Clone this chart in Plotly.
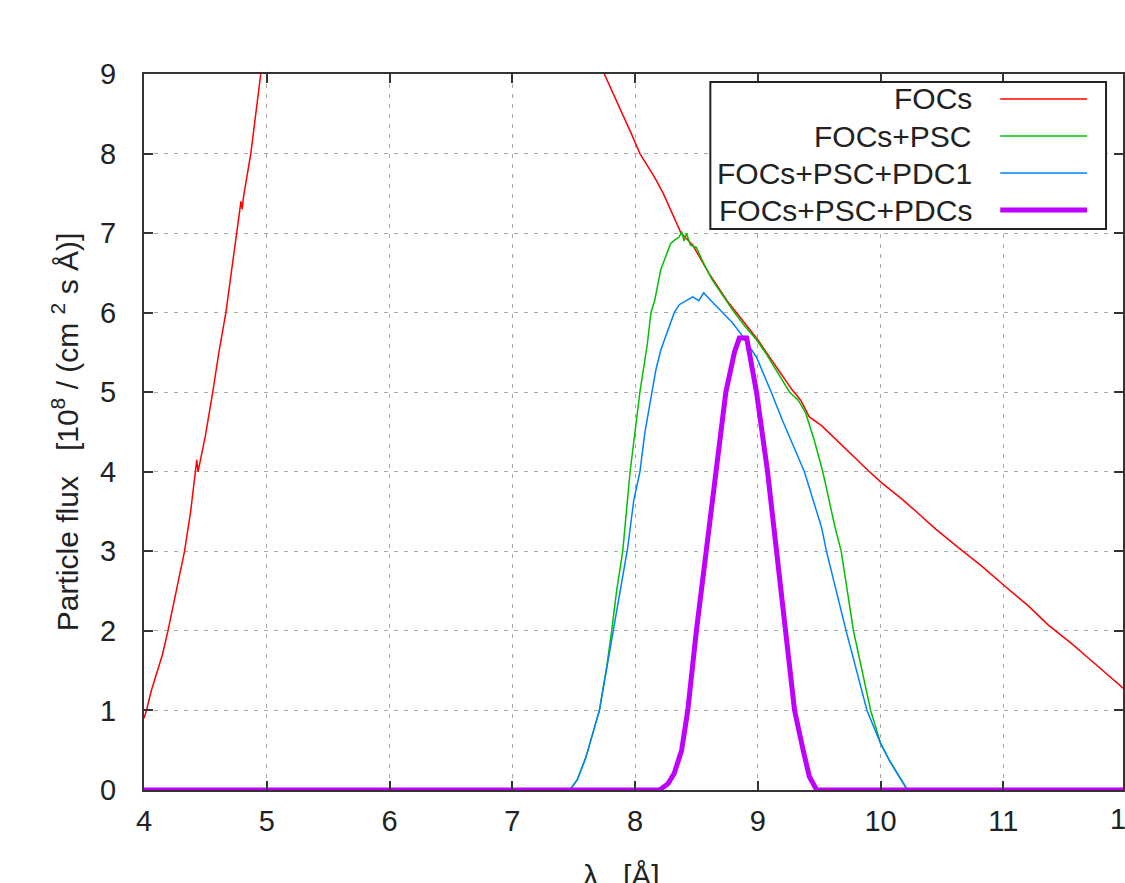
import plotly.graph_objects as go

# ---------------- data ----------------
series_names = ["FOCs", "FOCs+PSC", "FOCs+PSC+PDC1", "FOCs+PSC+PDCs"]

focs_x = [4.00, 4.02, 4.06, 4.10, 4.15, 4.195, 4.25, 4.33, 4.38, 4.42, 4.43, 4.44, 4.50,
          4.56, 4.61, 4.667, 4.72, 4.755, 4.79, 4.80, 4.81, 4.87, 4.91, 4.95, 5.00, 5.30,
          6.00, 7.00, 7.50, 7.75, 7.90, 7.97, 8.04, 8.10, 8.16, 8.23, 8.30, 8.375, 8.47,
          8.60, 8.75, 8.90, 9.00, 9.15, 9.28, 9.35, 9.42, 9.52, 9.64, 9.78, 9.91, 10.01,
          10.18, 10.29, 10.45, 10.64, 10.82, 11.00, 11.20, 11.37, 11.55, 11.70, 11.85, 12.00]
focs_y = [0.90, 1.00, 1.25, 1.45, 1.70, 2.00, 2.40, 3.00, 3.50, 4.00, 4.15, 4.00, 4.45,
          5.00, 5.50, 6.00, 6.60, 7.00, 7.40, 7.30, 7.45, 8.00, 8.50, 9.00, 9.60, 12.0,
          14.0, 12.0, 10.2, 9.00, 8.50, 8.25, 8.00, 7.85, 7.70, 7.50, 7.25, 7.00, 6.85,
          6.50, 6.15, 5.85, 5.66, 5.32, 5.03, 4.90, 4.69, 4.58, 4.40, 4.20, 4.00, 3.86,
          3.65, 3.50, 3.28, 3.04, 2.82, 2.58, 2.32, 2.07, 1.85, 1.65, 1.45, 1.25]

psc_x = [4.00, 7.47, 7.53, 7.60, 7.71, 7.77, 7.81, 7.85, 7.90, 7.96, 8.04, 8.10, 8.13,
         8.16, 8.21, 8.29, 8.33, 8.36, 8.38, 8.40, 8.42, 8.45, 8.50, 8.55, 8.63, 8.72,
         8.81, 8.90, 8.99, 9.07, 9.15, 9.26, 9.33, 9.39, 9.46, 9.53, 9.63, 9.68, 9.78,
         9.85, 9.92, 10.00, 10.07, 10.15, 10.22, 12.00]
psc_y = [0.00, 0.00, 0.13, 0.41, 1.00, 1.55, 2.00, 2.50, 3.00, 4.00, 5.00, 5.60, 6.00,
         6.15, 6.54, 6.87, 6.92, 6.95, 7.02, 6.90, 7.00, 6.85, 6.82, 6.65, 6.41, 6.20,
         6.00, 5.82, 5.66, 5.48, 5.28, 5.00, 4.90, 4.74, 4.40, 4.00, 3.30, 3.00, 2.00,
         1.50, 1.00, 0.59, 0.38, 0.17, 0.00, 0.00]

pdc1_x = [4.00, 7.47, 7.53, 7.60, 7.71, 7.82, 7.94, 7.99, 8.04, 8.08, 8.14, 8.17, 8.21,
          8.27, 8.32, 8.36, 8.42, 8.47, 8.52, 8.56, 8.60, 8.65, 8.71, 8.79, 8.86, 8.99,
          9.11, 9.20, 9.38, 9.52, 9.56, 9.72, 9.89, 10.00, 10.07, 10.15, 10.22, 12.00]
pdc1_y = [0.00, 0.00, 0.13, 0.41, 1.00, 2.00, 3.04, 3.64, 4.00, 4.49, 5.00, 5.28, 5.53,
          5.80, 6.00, 6.10, 6.15, 6.20, 6.15, 6.25, 6.18, 6.10, 6.00, 5.88, 5.74, 5.44,
          5.00, 4.65, 4.00, 3.30, 3.00, 2.00, 1.00, 0.59, 0.38, 0.17, 0.00, 0.00]

pdcs_x = [4.00, 8.20, 8.27, 8.32, 8.38, 8.43, 8.50, 8.58, 8.66, 8.74, 8.81, 8.85,
          8.91, 8.94, 8.99, 9.08, 9.15, 9.22, 9.30, 9.37, 9.42, 9.48, 12.00]
pdcs_y = [0.00, 0.00, 0.08, 0.21, 0.50, 1.00, 2.00, 3.00, 4.00, 5.00, 5.50, 5.68,
          5.68, 5.45, 5.00, 4.00, 3.00, 2.00, 1.00, 0.50, 0.17, 0.00, 0.00]

x_ticks = [4, 5, 6, 7, 8, 9, 10, 11, 12]
y_ticks = [0, 1, 2, 3, 4, 5, 6, 7, 8, 9]

# ---------------- style ----------------
W, H = 1125, 883
ML, MR, MT, MB = 144, 0, 74, 93
FONT = "Liberation Sans, Arial, sans-serif"
colors = ["#ff0000", "#00c000", "#0080ff", "#c000ff"]
widths = [1.5, 1.5, 1.5, 5]
TXT = "#222222"
TICK_SIZE = 29
TEXT_SIZE = 30
PX_PER_UNIT = 123.0

PW = W - ML - MR
PH = H - MT - MB


def px(xp):
    return (xp - ML) / PW


def py(yp):
    return (H - MB - yp) / PH


fig = go.Figure()
data = [(focs_x, focs_y), (psc_x, psc_y), (pdc1_x, pdc1_y), (pdcs_x, pdcs_y)]
for i, (xs, ys) in enumerate(data):
    fig.add_trace(go.Scatter(
        x=xs, y=ys, mode="lines", name=series_names[i],
        line=dict(color=colors[i], width=widths[i]),
        cliponaxis=(i == 0), showlegend=False,
    ))

x_min = 4.0
x_max = 4.0 + PW / PX_PER_UNIT

axis_common = dict(
    showline=True, linecolor="#333333", linewidth=2, mirror="ticks",
    ticks="inside", ticklen=9, tickwidth=2, tickcolor="#333333",
    showgrid=True, gridcolor="#a8a8a8", gridwidth=1.3, griddash="4px,6px",
    zeroline=False, tickfont=dict(family=FONT, size=TICK_SIZE, color=TXT),
)
fig.update_xaxes(range=[x_min, x_max], tickvals=x_ticks,
                 ticktext=[str(v) for v in x_ticks], ticklabelstandoff=4,
                 **axis_common)
fig.update_yaxes(range=[0, 9], tickvals=y_ticks,
                 ticktext=[str(v) for v in y_ticks], ticklabelstandoff=20,
                 **axis_common)

annotations = []
# partially visible last x tick label (12 lies just beyond the window edge)
annotations.append(dict(x=px(ML + (x_ticks[-1] - x_min) * PX_PER_UNIT), y=py(819),
                        xref="paper", yref="paper",
                        text=str(x_ticks[-1]), showarrow=False, xanchor="center",
                        yanchor="middle", font=dict(family=FONT, size=TICK_SIZE, color=TXT)))
# axis titles
annotations.append(dict(x=px(65), y=py(432), xref="paper", yref="paper",
                        text="Particle flux   [10<sup>8</sup> / (cm <sup>2</sup> s Å)]",
                        textangle=-90, showarrow=False, xanchor="center", yanchor="middle",
                        font=dict(family=FONT, size=TEXT_SIZE, color=TXT)))
annotations.append(dict(x=px(622), y=py(857), xref="paper", yref="paper",
                        text="λ   [Å]", showarrow=False, xanchor="center", yanchor="top",
                        font=dict(family=FONT, size=TEXT_SIZE, color=TXT)))

shapes = []
# legend frame
shapes.append(dict(type="rect", xref="paper", yref="paper",
                   x0=px(711.5), x1=px(1108), y0=py(229), y1=py(82),
                   line=dict(color="#222222", width=2), fillcolor="white", layer="above"))
rows = [99, 136, 173, 210]
for i, name in enumerate(series_names):
    annotations.append(dict(x=px(976), y=py(rows[i]), xref="paper", yref="paper",
                            text=name, showarrow=False, xanchor="right", yanchor="middle",
                            font=dict(family=FONT, size=TEXT_SIZE, color=TXT)))
    shapes.append(dict(type="line", xref="paper", yref="paper",
                       x0=px(1002), x1=px(1089), y0=py(rows[i]), y1=py(rows[i]),
                       line=dict(color=colors[i], width=widths[i]), layer="above"))

fig.update_layout(
    width=W, height=H,
    margin=dict(l=ML, r=MR, t=MT, b=MB, pad=0),
    paper_bgcolor="white", plot_bgcolor="white",
    annotations=annotations, shapes=shapes, showlegend=False,
    font=dict(family=FONT, size=TICK_SIZE, color=TXT),
)

fig.write_html("out.html",
               config={"displayModeBar": False},
               post_script="document.body.style.margin='0px';"
                           "document.body.style.overflow='hidden';")
